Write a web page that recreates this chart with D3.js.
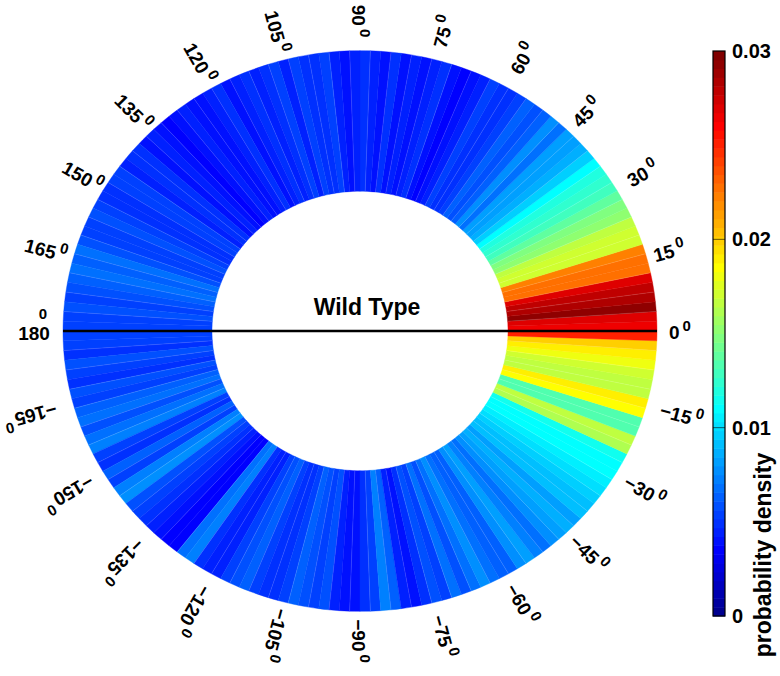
<!DOCTYPE html>
<html>
<head>
<meta charset="utf-8">
<script src="https://cdn.jsdelivr.net/npm/d3@7"></script>
<style>
	body { margin: 0; background: #fff; }
	text { font-family: "Liberation Sans", Arial, sans-serif; font-weight: bold; fill: #000; }
</style>
</head>
<body>
<script>
	// Bin edges: 2 degree bins from -180 to 180
	var binStart = -180;
	var binWidth = 2;

	// probability density per bin (-180 .. 0)
	var densityNeg = [
		0.0052, 0.0055, 0.0050, 0.0058, 0.0053, 0.0049, 0.0060, 0.0055, 0.0062, 0.0068,
		0.0058, 0.0070, 0.0072, 0.0055, 0.0050, 0.0062, 0.0056, 0.0074, 0.0078, 0.0060,
		0.0052, 0.0048, 0.0046, 0.0042, 0.0036, 0.0034, 0.0070, 0.0072, 0.0050, 0.0046,
		0.0044, 0.0052, 0.0058, 0.0062, 0.0055, 0.0050, 0.0047, 0.0056, 0.0064, 0.0058,
		0.0052, 0.0060, 0.0044, 0.0040, 0.0038, 0.0048, 0.0055, 0.0072, 0.0062, 0.0045,
		0.0040, 0.0050, 0.0058, 0.0052, 0.0066, 0.0060, 0.0070, 0.0075, 0.0068, 0.0062,
		0.0064, 0.0078, 0.0082, 0.0072, 0.0068, 0.0075, 0.0080, 0.0086, 0.0084, 0.0090,
		0.0092, 0.0096, 0.0100, 0.0105, 0.0110, 0.0112, 0.0114, 0.0160, 0.0165, 0.0134,
		0.0132, 0.0186, 0.0188, 0.0166, 0.0168, 0.0172, 0.0180, 0.0192, 0.0200, 0.0252
	];
	// probability density per bin (0 .. 180)
	var densityPos = [
		0.0265, 0.0268, 0.0292, 0.0284, 0.0280, 0.0268, 0.0228, 0.0226, 0.0222, 0.0172,
		0.0170, 0.0168, 0.0150, 0.0148, 0.0140, 0.0130, 0.0124, 0.0118, 0.0112, 0.0094,
		0.0088, 0.0084, 0.0080, 0.0068, 0.0075, 0.0062, 0.0058, 0.0064, 0.0055, 0.0050,
		0.0048, 0.0052, 0.0045, 0.0040, 0.0036, 0.0042, 0.0050, 0.0046, 0.0038, 0.0044,
		0.0042, 0.0048, 0.0040, 0.0046, 0.0050, 0.0044, 0.0038, 0.0046, 0.0052, 0.0048,
		0.0050, 0.0054, 0.0046, 0.0052, 0.0048, 0.0044, 0.0050, 0.0046, 0.0042, 0.0048,
		0.0046, 0.0040, 0.0038, 0.0044, 0.0042, 0.0036, 0.0040, 0.0045, 0.0042, 0.0048,
		0.0050, 0.0046, 0.0052, 0.0055, 0.0050, 0.0048, 0.0054, 0.0058, 0.0052, 0.0056,
		0.0060, 0.0066, 0.0062, 0.0070, 0.0064, 0.0058, 0.0055, 0.0060, 0.0052, 0.0056
	];

	// angle tick labels around the ring
	var angleTicks = [0, 15, 30, 45, 60, 75, 90, 105, 120, 135, 150, 165, 180,
		-165, -150, -135, -120, -105, -90, -75, -60, -45, -30, -15];

	// colour bar ticks
	var colorTicks = [0, 0.01, 0.02, 0.03];
	var colorMax = 0.03;
	var nLevels = 64;

	var width = 780, height = 676;
	var cx = 360, cy = 331;
	var outerR = 297, innerR = 148;
	var yRatio = 0.944;

	var svg = d3.select("body")
				.append("svg")
				.attr("width", width)
				.attr("height", height);

	// matlab style jet
	function jet(x) {
		function c(v) { return Math.max(0, Math.min(1, v)); }
		var r = c(1.5 - Math.abs(4 * x - 3));
		var g = c(1.5 - Math.abs(4 * x - 2));
		var b = c(1.5 - Math.abs(4 * x - 1));
		return d3.rgb(r * 255, g * 255, b * 255).toString();
	}
	var jetColors = d3.range(nLevels).map(function(i) { return jet((i + 1) / nLevels); });
	var colorScale = d3.scaleQuantize()
						.domain([0, colorMax])
						.range(jetColors);

	var dataset = densityNeg.concat(densityPos).map(function(v, i) {
		return {a0: binStart + i * binWidth, a1: binStart + (i + 1) * binWidth, value: v};
	});

	// angle in degrees (counter clockwise from east) -> d3.arc radians
	function toArc(deg) { return (90 - deg) * Math.PI / 180; }

	var arc = d3.arc()
				.innerRadius(innerR)
				.outerRadius(outerR)
				.startAngle(function(d) { return toArc(d.a1); })
				.endAngle(function(d) { return toArc(d.a0); });

	var ring = svg.append("g")
				.attr("transform", "translate(" + cx + "," + cy + ") scale(1," + yRatio + ")");

	ring.selectAll("path")
		.data(dataset)
		.enter()
		.append("path")
		.attr("d", arc)
		.style("fill", function(d) { return colorScale(d.value); })
		.style("stroke", function(d) { return colorScale(d.value); })
		.style("stroke-width", 0.4);

	// faint seams between bins
	ring.selectAll("line.seam")
		.data(dataset.filter(function(d, i) { return i % 2 == 0; }))
		.enter()
		.append("line")
		.attr("class", "seam")
		.attr("x1", function(d) { return innerR * Math.cos(d.a0 * Math.PI / 180); })
		.attr("y1", function(d) { return -innerR * Math.sin(d.a0 * Math.PI / 180); })
		.attr("x2", function(d) { return outerR * Math.cos(d.a0 * Math.PI / 180); })
		.attr("y2", function(d) { return -outerR * Math.sin(d.a0 * Math.PI / 180); })
		.style("stroke", "#fff")
		.style("stroke-opacity", 0.22)
		.style("stroke-width", 0.6);

	// horizontal reference line
	svg.append("line")
		.attr("x1", cx - outerR)
		.attr("x2", cx + outerR)
		.attr("y1", cy)
		.attr("y2", cy)
		.style("stroke", "#000")
		.style("stroke-width", 2.5);

	svg.append("text")
		.attr("x", 367)
		.attr("y", 315)
		.attr("text-anchor", "middle")
		.style("font-size", "23px")
		.text("Wild Type");

	// angle labels sit on an ellipse, pushed out a little where the reference does
	var labelRx = 320, labelRy = 310;
	var labelPush = {"30": 6, "60": 5, "165": 5, "-15": 13, "-30": 9, "-45": 4, "-60": 5,
		"-75": 6, "-105": 5, "-120": 13, "-135": 16, "-150": 16, "-165": 21};
	function labelRotation(a) {
		if (a < 0) return -a;
		if (a <= 75) return -a;
		return 180 - a;
	}
	var labels = svg.selectAll("text.angle")
		.data(angleTicks)
		.enter()
		.append("text")
		.attr("class", "angle")
		.attr("text-anchor", "middle")
		.attr("transform", function(d) {
			if (d == 180) return "translate(34,332)";
			var rad = d * Math.PI / 180;
			var push = labelPush[d] || 0;
			var x = cx + (labelRx + push) * Math.cos(rad);
			var y = cy - (labelRy + push) * Math.sin(rad);
			return "translate(" + x + "," + y + ") rotate(" + labelRotation(d) + ")";
		})
		.style("font-size", "19px");

	labels.append("tspan")
		.attr("dy", "0.4em")
		.text(function(d) { return d < 0 ? "\u2212" + (-d) : d; });
	labels.append("tspan")
		.attr("dx", function(d) { return d == 180 ? -11 : 3; })
		.attr("dy", function(d) { return d == 180 ? -21 : -8; })
		.style("font-size", "15px")
		.text("0");

	// colour bar
	var barX = 713, barW = 12, barTop = 51, barBottom = 616;
	var barScale = d3.scaleLinear()
					.domain([0, colorMax])
					.range([barBottom, barTop]);

	svg.append("g")
		.selectAll("rect")
		.data(jetColors)
		.enter()
		.append("rect")
		.attr("x", barX)
		.attr("width", barW)
		.attr("y", function(d, i) { return barScale((i + 1) * colorMax / nLevels); })
		.attr("height", (barBottom - barTop) / nLevels + 0.5)
		.style("fill", function(d) { return d; });

	svg.append("rect")
		.attr("x", barX)
		.attr("y", barTop)
		.attr("width", barW)
		.attr("height", barBottom - barTop)
		.style("fill", "none")
		.style("stroke", "#000")
		.style("stroke-width", 1.2);

	var barAxis = d3.axisRight(barScale)
					.tickValues(colorTicks)
					.tickSize(0)
					.tickPadding(7)
					.tickFormat(function(d) { return d == 0 ? "0" : d3.format(".2f")(d); });

	var axisG = svg.append("g")
		.attr("transform", "translate(" + (barX + barW) + ",0)")
		.call(barAxis);
	axisG.select(".domain").remove();
	axisG.selectAll("text")
		.style("font-family", "Liberation Sans, Arial, sans-serif")
		.style("font-weight", "bold")
		.style("font-size", "20px");

	// small inner ticks
	svg.selectAll("line.cbtick")
		.data([0.01, 0.02])
		.enter()
		.append("line")
		.attr("x1", barX)
		.attr("x2", barX + barW)
		.attr("y1", function(d) { return barScale(d); })
		.attr("y2", function(d) { return barScale(d); })
		.style("stroke", "#000")
		.style("stroke-opacity", 0.6)
		.style("stroke-width", 1);

	svg.append("text")
		.attr("transform", "translate(771,555) rotate(-90)")
		.attr("text-anchor", "middle")
		.style("font-size", "23px")
		.text("probability density");
</script>
</body>
</html>
